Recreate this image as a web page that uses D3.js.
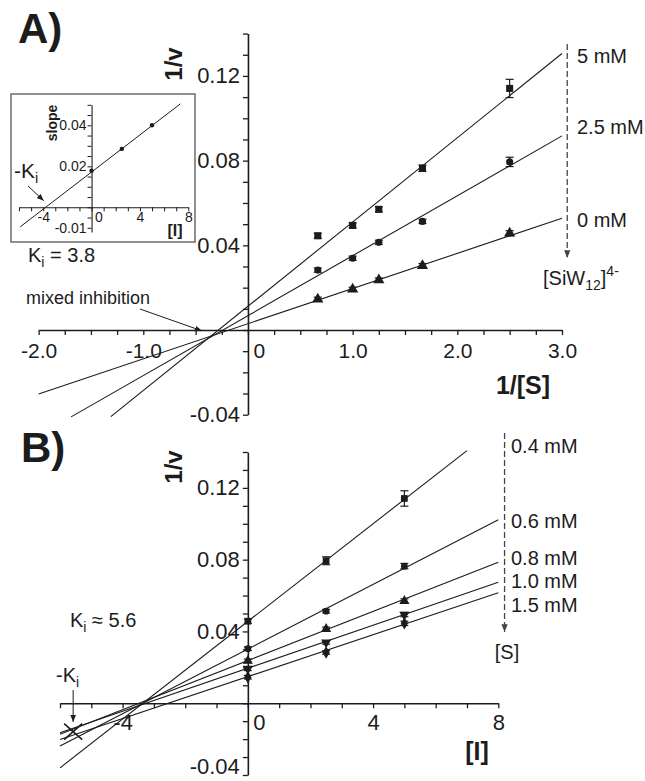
<!DOCTYPE html>
<html>
<head>
<meta charset="utf-8">
<script src="https://cdn.jsdelivr.net/npm/d3@7"></script>
<style>
  body { margin: 0; background: #fff; }
  svg { font-family: "Liberation Sans", Arial, sans-serif; }
</style>
</head>
<body>
<div id="chart"></div>
<script>
// ---- data ----
// panel A: Lineweaver-Burk, 1/[S] for S = 1.5, 1.0, 0.8, 0.6, 0.4 mM
const invS = [0.667, 1.0, 1.25, 1.667, 2.5];
const inhibConc = [0, 2.5, 5];           // [SiW12]4- mM
const inhibLabels = ["0 mM", "2.5 mM", "5 mM"];
const invV_I0  = [0.0145, 0.0192, 0.0236, 0.0304, 0.0457];
const invV_I25 = [0.0283, 0.0339, 0.0414, 0.0513, 0.0794];
const invV_I5  = [0.0445, 0.0494, 0.0570, 0.0764, 0.1141];
const err_I0   = [0.0010, 0.0010, 0.0010, 0.0010, 0.0012];
const err_I25  = [0.0010, 0.0010, 0.0010, 0.0010, 0.0022];
const err_I5   = [0.0012, 0.0012, 0.0012, 0.0015, 0.0043];
// linear fits in A
const fitA_slope = [0.0166, 0.0283, 0.0398];
const fitA_int   = [0.0030, 0.0068, 0.0112];
const fitA_x0    = [-2.0, -1.69, -1.31];
const fitA_x1    = [3.0, 3.0, 3.0];

// inset: slope vs [I]
const insetSlope = [0.0178, 0.0285, 0.0400];
const insetFit = [0.00453, 0.0172, -5.9, 7.35]; // slope, intercept, x0, x1

// panel B: Dixon plot, 1/v vs [I]
const sConc = [0.4, 0.6, 0.8, 1.0, 1.5];
const sLabels = ["0.4 mM", "0.6 mM", "0.8 mM", "1.0 mM", "1.5 mM"];
const sColumn = [4, 3, 2, 1, 0];     // matching column in the A arrays
const fitB_slope = [0.0136, 0.0090, 0.00684, 0.00599, 0.00584];
const fitB_int   = [0.0456, 0.0302, 0.0238, 0.0195, 0.0148];
const fitB_x0    = [-6, -6, -6, -6, -6];
const fitB_x1    = [7, 8, 8, 8, 8];
const kiB = [-5.58, -0.0158];

const W = 645, H = 781;
const ink = "#1c1c1c";

const svg = d3.select("#chart").append("svg")
    .attr("width", W).attr("height", H);

const defs = svg.append("defs");
defs.append("marker").attr("id", "head")
    .attr("viewBox", "0 0 10 10").attr("refX", 10).attr("refY", 5)
    .attr("markerWidth", 7).attr("markerHeight", 7).attr("orient", "auto")
    .append("path").attr("d", "M0,1 L10,5 L0,9 Z").attr("fill", ink);
defs.append("marker").attr("id", "headGrey")
    .attr("viewBox", "0 0 10 10").attr("refX", 10).attr("refY", 5)
    .attr("markerWidth", 6).attr("markerHeight", 6).attr("orient", "auto")
    .append("path").attr("d", "M0,1 L10,5 L0,9 Z").attr("fill", "#444");

function steps(a, b, st) {
    let n = Math.round((b - a) / st);
    return d3.range(n + 1).map(i => +(a + i * st).toFixed(6));
}

function drawAxis(g, axisFn, scale, ticks, labels, fmt, fontSize, pad, tickLen) {
    let ax = axisFn(scale).tickValues(ticks).tickSizeOuter(0).tickSizeInner(tickLen || 5)
        .tickPadding(pad)
        .tickFormat(d => labels.some(l => Math.abs(l - d) < 1e-9) ? fmt(d) : "");
    g.call(ax);
    g.attr("font-family", null).attr("font-size", fontSize);
    g.select(".domain").attr("stroke", ink).attr("stroke-width", 1.6);
    g.selectAll(".tick line").attr("stroke", ink).attr("stroke-width", 1.3);
    g.selectAll(".tick text").attr("fill", ink);
    // the "0" label sits just right of the crossing axis
    g.selectAll("g.tick").filter(d => d === 0).select("text")
        .attr("text-anchor", "start").attr("x", tickLen ? 3 : 5);
    return g;
}

function markerPath(kind, size) {
    let map = { square: d3.symbolSquare, circle: d3.symbolCircle, tri: d3.symbolTriangle,
        triDown: d3.symbolTriangle, diamond: d3.symbolDiamond };
    return d3.symbol().type(map[kind]).size(size)();
}

function drawPoints(g, xs, ys, errs, kind, x, y, size) {
    xs.forEach((xv, i) => {
        let cx = x(xv), cy = y(ys[i]);
        let e = errs[i];
        g.append("line").attr("x1", cx).attr("x2", cx)
            .attr("y1", y(ys[i] - e)).attr("y2", y(ys[i] + e))
            .attr("stroke", ink).attr("stroke-width", 1.2);
        [ys[i] - e, ys[i] + e].forEach(v => {
            g.append("line").attr("x1", cx - 4).attr("x2", cx + 4)
                .attr("y1", y(v)).attr("y2", y(v))
                .attr("stroke", ink).attr("stroke-width", 1.2);
        });
        g.append("path").attr("d", markerPath(kind, size))
            .attr("transform", "translate(" + cx + "," + cy + ")" + (kind == "triDown" ? " rotate(180)" : ""))
            .attr("fill", ink);
    });
}

function drawFit(g, x, y, slope, icpt, x0, x1, w) {
    g.append("line")
        .attr("x1", x(x0)).attr("y1", y(icpt + slope * x0))
        .attr("x2", x(x1)).attr("y2", y(icpt + slope * x1))
        .attr("stroke", ink).attr("stroke-width", w || 1.1);
}

function subText(g, x, y, size, parts) {
    // parts: [main, sub, rest]
    let t = g.append("text").attr("x", x).attr("y", y).attr("font-size", size).attr("fill", ink);
    t.append("tspan").text(parts[0]);
    t.append("tspan").text(parts[1]).attr("font-size", size * 0.7).attr("dy", 5);
    if (parts[2]) t.append("tspan").text(parts[2]).attr("dy", -5);
    return t;
}

// ================= Panel A =================
const xA = d3.scaleLinear().domain([-2, 3]).range([38.6, 562]);
const yA = d3.scaleLinear().domain([-0.04, 0.14]).range([414.7, 33.6]);
const gA = svg.append("g");

drawAxis(gA.append("g").attr("transform", "translate(0," + yA(0) + ")"),
    d3.axisBottom, xA, steps(-2, 3, 0.25), [-2, -1, 0, 1, 2, 3],
    d => d === 0 ? "0" : d.toFixed(1), 21, 8);
drawAxis(gA.append("g").attr("transform", "translate(" + xA(0) + ",0)"),
    d3.axisLeft, yA, steps(-0.04, 0.14, 0.01), [-0.04, 0.04, 0.08, 0.12],
    d => d.toFixed(2), 22, 3);

inhibConc.forEach((c, k) => drawFit(gA, xA, yA, fitA_slope[k], fitA_int[k], fitA_x0[k], fitA_x1[k]));
drawPoints(gA, invS, invV_I0, err_I0, "tri", xA, yA, 55);
drawPoints(gA, invS, invV_I25, err_I25, "circle", xA, yA, 40);
drawPoints(gA, invS, invV_I5, err_I5, "square", xA, yA, 50);

gA.append("text").text("A)").attr("x", 18).attr("y", 43)
    .attr("font-size", 42).attr("font-weight", "bold").attr("fill", ink);
gA.append("text").text("1/v").attr("transform", "translate(182,64) rotate(-90)")
    .attr("text-anchor", "middle").attr("font-size", 24).attr("font-weight", "bold").attr("fill", ink);
gA.append("text").text("1/[S]").attr("x", 523).attr("y", 394)
    .attr("text-anchor", "middle").attr("font-size", 25).attr("font-weight", "bold").attr("fill", ink);

// legend arrow A
gA.append("line").attr("x1", xA(3.05)).attr("x2", xA(3.05)).attr("y1", 44).attr("y2", 258)
    .attr("stroke", "#444").attr("stroke-width", 1.3).attr("stroke-dasharray", "6,3")
    .attr("marker-end", "url(#headGrey)");
const legYA = [227, 134, 63];
inhibLabels.forEach((t, k) => {
    gA.append("text").text(t).attr("x", 577).attr("y", legYA[k])
        .attr("font-size", 20).attr("fill", ink);
});
const siw = gA.append("text").attr("x", 543).attr("y", 285).attr("font-size", 20).attr("fill", ink);
siw.append("tspan").text("[SiW");
siw.append("tspan").text("12").attr("font-size", 14).attr("dy", 5);
siw.append("tspan").text("]").attr("dy", -5);
siw.append("tspan").text("4-").attr("font-size", 14).attr("dy", -9);

// mixed inhibition annotation
gA.append("text").text("mixed inhibition").attr("x", 26).attr("y", 304)
    .attr("font-size", 18).attr("fill", ink);
gA.append("line").attr("x1", 140).attr("y1", 309).attr("x2", xA(-0.44)).attr("y2", yA(-0.0004))
    .attr("stroke", ink).attr("stroke-width", 1).attr("marker-end", "url(#head)");

subText(gA, 28, 262, 20, ["K", "i", " = 3.8"]);

// ---- inset ----
const gI = svg.append("g");
gI.append("rect").attr("x", 11).attr("y", 94).attr("width", 184).attr("height", 148)
    .attr("fill", "#fff").attr("stroke", "#555").attr("stroke-width", 1.3);
const xI = d3.scaleLinear().domain([-6, 8]).range([19, 188.3]);
const yI = d3.scaleLinear().domain([-0.012, 0.05]).range([231.9, 104.8]);
drawAxis(gI.append("g").attr("transform", "translate(0," + yI(0) + ")"),
    d3.axisBottom, xI, steps(-6, 8, 1), [-4, 0, 4, 8], d => String(d), 14, 1, 4);
drawAxis(gI.append("g").attr("transform", "translate(" + xI(0) + ",0)"),
    d3.axisLeft, yI, steps(-0.01, 0.05, 0.005), [-0.01, 0.02, 0.04], d => d.toFixed(2), 14, 1, 4);
gI.selectAll(".domain").attr("stroke-width", 1.1);
gI.selectAll(".tick line").attr("stroke-width", 1);
drawFit(gI, xI, yI, insetFit[0], insetFit[1], insetFit[2], insetFit[3], 1);
inhibConc.forEach((c, k) => {
    gI.append("circle").attr("cx", xI(c)).attr("cy", yI(insetSlope[k])).attr("r", 2.2).attr("fill", ink);
});
gI.append("text").text("slope").attr("transform", "translate(57,123) rotate(-90)")
    .attr("text-anchor", "middle").attr("font-size", 14).attr("font-weight", "bold").attr("fill", ink);
gI.append("text").text("[I]").attr("x", 175).attr("y", 236).attr("text-anchor", "middle")
    .attr("font-size", 16).attr("font-weight", "bold").attr("fill", ink);
subText(gI, 14, 178, 21, ["-K", "i"]);
gI.append("line").attr("x1", 28).attr("y1", 186).attr("x2", xI(-3.95)).attr("y2", yI(0.0032))
    .attr("stroke", ink).attr("stroke-width", 1).attr("marker-end", "url(#head)");

// ================= Panel B =================
const xB = d3.scaleLinear().domain([-6, 8]).range([60, 498.3]);
const yB = d3.scaleLinear().domain([-0.04, 0.14]).range([775, 452]);
const gB = svg.append("g");
drawAxis(gB.append("g").attr("transform", "translate(0," + yB(0) + ")"),
    d3.axisBottom, xB, steps(-6, 8, 1), [-4, 0, 4, 8], d => String(d), 22, 6);
const yAxB = drawAxis(gB.append("g").attr("transform", "translate(" + xB(0) + ",0)"),
    d3.axisLeft, yB, steps(-0.04, 0.14, 0.01), [-0.04, 0.04, 0.08, 0.12], d => d.toFixed(2), 22, 3);
// lowest label sits at the bottom edge, keep it inside
yAxB.selectAll("g.tick").filter(d => d === -0.04).select("text").attr("y", -9);

const kindsB = ["square", "circle", "tri", "triDown", "diamond"];
const allV = [invV_I0, invV_I25, invV_I5];
const allE = [err_I0, err_I25, err_I5];
sConc.forEach((s, j) => {
    drawFit(gB, xB, yB, fitB_slope[j], fitB_int[j], fitB_x0[j], fitB_x1[j]);
});
sConc.forEach((s, j) => {
    let col = sColumn[j];
    drawPoints(gB, inhibConc, allV.map(a => a[col]), allE.map(a => a[col]), kindsB[j], xB, yB,
        kindsB[j] == "circle" ? 36 : 45);
});

gB.append("text").text("B)").attr("x", 21).attr("y", 462)
    .attr("font-size", 42).attr("font-weight", "bold").attr("fill", ink);
gB.append("text").text("1/v").attr("transform", "translate(182,467) rotate(-90)")
    .attr("text-anchor", "middle").attr("font-size", 24).attr("font-weight", "bold").attr("fill", ink);
gB.append("text").text("[I]").attr("x", 477).attr("y", 760)
    .attr("text-anchor", "middle").attr("font-size", 25).attr("font-weight", "bold").attr("fill", ink);

gB.append("line").attr("x1", xB(8.2)).attr("x2", xB(8.2)).attr("y1", 433).attr("y2", 632)
    .attr("stroke", "#444").attr("stroke-width", 1.3).attr("stroke-dasharray", "6,3")
    .attr("marker-end", "url(#headGrey)");
const legYB = [453, 528, 565, 588, 612];
sLabels.forEach((t, j) => {
    gB.append("text").text(t).attr("x", 511).attr("y", legYB[j]).attr("font-size", 20).attr("fill", ink);
});
gB.append("text").text("[S]").attr("x", 507).attr("y", 659).attr("text-anchor", "middle")
    .attr("font-size", 20).attr("fill", ink);

subText(gB, 70, 627, 20, ["K", "i", " \u2248 5.6"]);
subText(gB, 56, 682, 20, ["-K", "i"]);
gB.append("line").attr("x1", xB(kiB[0])).attr("x2", xB(kiB[0])).attr("y1", 690).attr("y2", 722)
    .attr("stroke", ink).attr("stroke-width", 1).attr("marker-end", "url(#head)");
// X marking -Ki
const kx = xB(kiB[0]), ky = yB(kiB[1]);
gB.append("path").attr("d", "M" + (kx - 9) + "," + (ky - 8) + "L" + (kx + 9) + "," + (ky + 8)
        + "M" + (kx - 9) + "," + (ky + 8) + "L" + (kx + 9) + "," + (ky - 8))
    .attr("stroke", ink).attr("stroke-width", 1.6).attr("fill", "none");
</script>
</body>
</html>
